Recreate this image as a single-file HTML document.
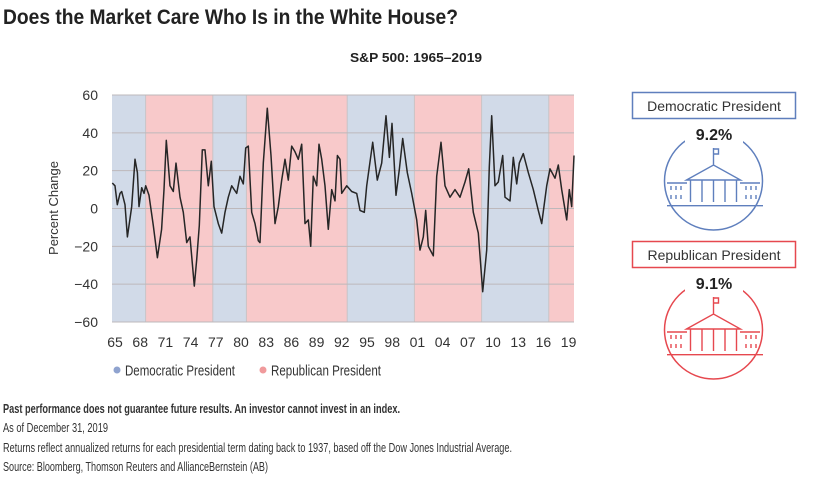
<!DOCTYPE html>
<html><head><meta charset="utf-8"><style>
html,body{margin:0;padding:0;background:#fff;}
svg{display:block;font-family:"Liberation Sans",sans-serif;}
</style></head><body>
<svg id="chart" width="840" height="477" viewBox="0 0 840 477" xmlns="http://www.w3.org/2000/svg">
<text x="3" y="24" font-size="21" font-weight="bold" fill="#222" textLength="455" lengthAdjust="spacingAndGlyphs">Does the Market Care Who Is in the White House?</text>
<text x="350" y="62" font-size="13" font-weight="bold" fill="#222" textLength="132" lengthAdjust="spacingAndGlyphs">S&amp;P 500: 1965–2019</text>
<g id="bands"></g>
<g id="grid"></g>
<g id="yticks"></g>
<g id="xticks"></g>
<path id="line" fill="none" stroke="#262626" stroke-width="1.5" stroke-linejoin="round"/>
<text transform="translate(58,208) rotate(-90)" text-anchor="middle" font-size="13" fill="#333">Percent Change</text>
<g>
<circle cx="117" cy="370" r="3.5" fill="#8fa3cf"/>
<text x="125" y="375.5" font-size="15" fill="#333" textLength="110" lengthAdjust="spacingAndGlyphs">Democratic President</text>
<circle cx="263" cy="370" r="3.5" fill="#f09a9c"/>
<text x="271" y="375.5" font-size="15" fill="#333" textLength="110" lengthAdjust="spacingAndGlyphs">Republican President</text>
</g>
<g font-size="13" fill="#333">
<text x="3" y="413" font-weight="bold" textLength="397" lengthAdjust="spacingAndGlyphs">Past performance does not guarantee future results. An investor cannot invest in an index.</text>
<text x="3" y="432" textLength="105" lengthAdjust="spacingAndGlyphs">As of December 31, 2019</text>
<text x="3" y="452" textLength="509" lengthAdjust="spacingAndGlyphs">Returns reflect annualized returns for each presidential term dating back to 1937, based off the Dow Jones Industrial Average.</text>
<text x="3" y="471" textLength="265" lengthAdjust="spacingAndGlyphs">Source: Bloomberg, Thomson Reuters and AllianceBernstein (AB)</text>
</g>
<g id="panels"></g>
</svg>
<script>
const years=[1965.04,1965.36,1965.63,1965.95,1966.15,1966.55,1966.83,1967.35,1967.74,1968.02,1968.21,1968.53,1968.81,1969.01,1969.40,1969.92,1970.40,1970.91,1971.19,1971.46,1971.90,1972.30,1972.62,1973.10,1973.49,1973.89,1974.29,1974.80,1975.08,1975.39,1975.75,1976.07,1976.46,1976.82,1977.14,1977.65,1978.06,1978.45,1978.85,1979.25,1979.85,1980.24,1980.63,1980.92,1981.23,1981.63,1982.02,1982.42,1982.62,1983.01,1983.49,1983.93,1984.40,1984.80,1985.20,1985.60,1985.99,1986.39,1986.79,1987.18,1987.58,1987.98,1988.37,1988.65,1988.97,1989.37,1989.64,1989.96,1990.36,1990.75,1991.15,1991.55,1991.83,1992.14,1992.34,1992.94,1993.54,1994.13,1994.52,1995.04,1995.32,1996.04,1996.58,1997.11,1997.62,1998.02,1998.33,1998.81,1999.21,1999.61,2000.16,2000.68,2001.27,2001.67,2002.06,2002.34,2002.66,2003.25,2003.65,2004.17,2004.64,2005.24,2005.83,2006.43,2007.02,2007.46,2008.01,2008.61,2009.13,2009.61,2009.92,2010.20,2010.60,2010.99,2011.51,2011.79,2012.38,2012.77,2013.18,2013.49,2013.97,2014.56,2015.15,2015.75,2016.15,2016.75,2017.14,2017.74,2018.13,2018.53,2019.13,2019.44,2019.73,2020.0];
const values=[13.5,12,2,8,9,2,-15,1,26,19,1,11,8,12,7,-9,-26,-11,10,36,12,9,24,6,-2,-18,-15,-41,-27,-9,31,31,12,25,1,-8,-13,-2,6,12,8,17,13,32,33,-2,-8,-17,-18,24,53,28,-8,1,15,26,15,33,30,26,34,-8,-6,-20,17,12,34,26,12,-11,10,4,28,26,8,12,9,8,-1,-2,12,35,15,24,49,27,45,7,21,37,19,8,-6,-22,-15,-1,-20,-25,17,35,12,6,10,6,14,21,-2,-13,-44,-22,22,49,12,14,28,6,4,27,13,24,29,19,10,-1,-8,12,21,16,23,10,-6,10,1,28];
const termStarts=[1965,1969,1977,1981,1993,2001,2009,2017];
const termEnds=[1969,1977,1981,1993,2001,2009,2017,2020];
const termParty=["D","R","D","R","D","R","D","R"];
const yTickValues=[60,40,20,0,-20,-40,-60];
const xTickYears=[1965,1968,1971,1974,1977,1980,1983,1986,1989,1992,1995,1998,2001,2004,2007,2010,2013,2016,2019];
const xTickLabels=["65","68","71","74","77","80","83","86","89","92","95","98","01","04","07","10","13","16","19"];
const panelLabels=["Democratic President","Republican President"];
const panelValues=["9.2%","9.1%"];

const NS="http://www.w3.org/2000/svg";
const X0=112,X1=574,Y0=95,Y1=322;
function xs(y){return X0+(y-1965)/(2020-1965)*(X1-X0);}
function ys(v){return Y0+(60-v)/120*(Y1-Y0);}
function mk(tag,attrs,parent){const e=document.createElementNS(NS,tag);for(const k in attrs)e.setAttribute(k,attrs[k]);parent.appendChild(e);return e;}

const bands=document.getElementById('bands');
termStarts.forEach((s,i)=>{
  const r=mk('rect',{x:xs(s),y:Y0,width:xs(termEnds[i])-xs(s),height:Y1-Y0,fill:termParty[i]==="D"?"#d1dae8":"#f8c9ca"},bands);
  
  
  if(i>0){const l=mk('line',{x1:xs(s),x2:xs(s),y1:Y0,y2:Y1,stroke:"#c9c3c6","stroke-width":1},bands);
  
  }
});
const grid=document.getElementById('grid'),yt=document.getElementById('yticks');
yTickValues.forEach(v=>{
  const l=mk('line',{x1:X0,x2:X1,y1:ys(v),y2:ys(v),stroke:"#bdb8bb","stroke-width":1},grid);
  
  
  const t=mk('text',{x:98,y:ys(v)+5,"text-anchor":"end","font-size":14,fill:"#333"},yt);
  t.textContent=(v<0?"−"+(-v):String(v));
  
  
});
const xt=document.getElementById('xticks');
xTickYears.forEach((yr,i)=>{
  const t=mk('text',{x:xs(yr)+3,y:347,"text-anchor":"middle","font-size":14,fill:"#333"},xt);
  t.textContent=xTickLabels[i];
  
  
});
document.getElementById('line').setAttribute('d',years.map((y,i)=>(i?'L':'M')+xs(y).toFixed(1)+','+ys(values[i]).toFixed(1)).join(''));

const panels=document.getElementById('panels');
const colors=["#5f7fbd","#e6484f"];
panelLabels.forEach((lab,i)=>{
  const dy=i*149;
  const g=mk('g',{transform:'translate(0,'+dy+')'},panels);
  
  
  const c=colors[i];
  mk('circle',{cx:713.5,cy:181,r:49,fill:"none",stroke:c,"stroke-width":1.5},g);
  mk('rect',{x:685,y:122,width:58,height:22,fill:"#fff"},g);
  const b=mk('rect',{x:632.5,y:92.5,width:163,height:26,fill:"#fff",stroke:c,"stroke-width":1.5},g);
  
  
  const t=mk('text',{x:714,y:111,"text-anchor":"middle","font-size":14,fill:"#333"},g);
  t.textContent=lab;
  
  
  const p=mk('text',{x:714,y:140,"text-anchor":"middle","font-size":16,"font-weight":"bold",fill:"#222"},g);
  p.textContent=panelValues[i];
  
  
  const ic=mk('g',{stroke:c,"stroke-width":1.4,fill:"none"},g);
  
  
  mk('path',{d:"M713.5,165V148M713.5,149h5v5h-5M686.5,180L713.5,165L740.5,180Z M690.5,180v22M702,180v22M713.5,180v22M725,180v22M736.5,180v22M667,183h20M740,183h20M667,205.7h96M671,186v4M676,186v4M681,186v4M671,195v4M676,195v4M681,195v4M746,186v4M751,186v4M756,186v4M746,195v4M751,195v4M756,195v4"},ic);
});
</script>
</body></html>
